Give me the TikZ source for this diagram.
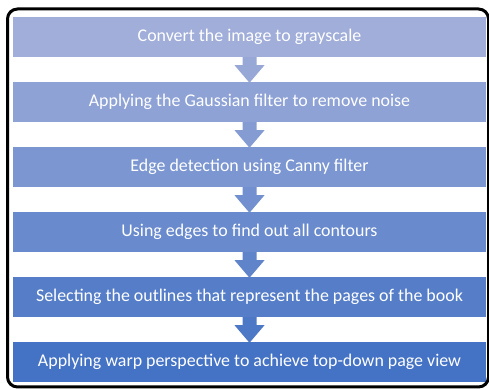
\documentclass[tikz,border=0pt]{standalone}
\usepackage{fontspec}
\setmainfont{Carlito}
\usetikzlibrary{calc}

% step colours, light to dark
\definecolor{stepA}{RGB}{160,174,217}
\definecolor{stepB}{RGB}{142,162,213}
\definecolor{stepC}{RGB}{123,150,209}
\definecolor{stepD}{RGB}{105,138,204}
\definecolor{stepE}{RGB}{86,126,200}
\definecolor{stepF}{RGB}{68,114,196}

\tikzset{
  stepbox/.style={rectangle, inner sep=0pt, minimum width=473pt, minimum height=40pt,
    text=white, font=\fontsize{17.9}{20}\selectfont},
  framebox/.style={draw=black, line width=3pt, rounded corners=10pt},
}

% block arrow from the bottom of one step to the top of the next
\newcommand\flowarrow[3]{%
  \fill[#3] ($(#1.south)+(-7,0)$) -- ++(0,-8) -- ++(-8,0)
    -- ($(#2.north)+(0,-1)$) -- ($(#1.south)+(15,-8)$) -- ++(-8,0)
    -- ($(#1.south)+(7,0)$) -- cycle;}

\begin{document}
\begin{tikzpicture}[x=1pt,y=1pt]
  \useasboundingbox (0,0) rectangle (489,390);
  \fill[white] (0,0) rectangle (489,390);

  \node[stepbox, fill=stepA] (b1) at (249.5,353) {Convert the image to grayscale};
  \node[stepbox, fill=stepB] (b2) at (249.5,288) {Applying the Gaussian filter to remove noise};
  \node[stepbox, fill=stepC] (b3) at (249.5,223) {Edge detection using Canny filter};
  \node[stepbox, fill=stepD] (b4) at (249.5,158) {Using edges to find out all contours};
  \node[stepbox, fill=stepE] (b5) at (249.5,93) {Selecting the outlines that represent the pages of the book};
  \node[stepbox, fill=stepF] (b6) at (249.5,28) {Applying warp perspective to achieve top-down page view};

  \flowarrow{b1}{b2}{stepA!50!stepB}
  \flowarrow{b2}{b3}{stepB!50!stepC}
  \flowarrow{b3}{b4}{stepC!50!stepD}
  \flowarrow{b4}{b5}{stepD!50!stepE}
  \flowarrow{b5}{b6}{stepE!50!stepF}

  \draw[framebox] (7.5,381) rectangle (488.5,3);
\end{tikzpicture}
\end{document}
